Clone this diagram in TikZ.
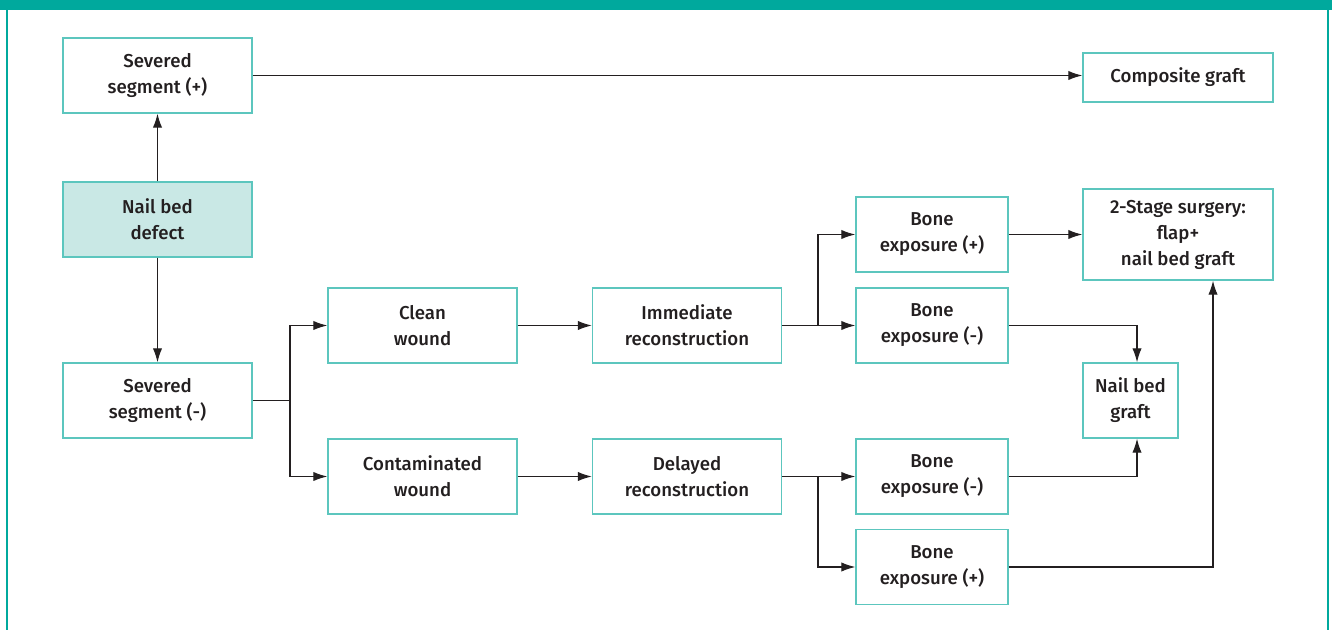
\documentclass[tikz,border=0pt]{standalone}
\usepackage{fontspec}
\setmainfont{Fira Sans}[UprightFont={* Medium}]
\usetikzlibrary{arrows.meta,calc}
\definecolor{hdr}{HTML}{00A99D}
\definecolor{boxc}{HTML}{5CC6BE}
\definecolor{fillc}{HTML}{C9E8E5}
\definecolor{txt}{HTML}{231F20}
\tikzset{
  box/.style={draw=boxc, line width=1.1pt, align=center, text=txt, inner sep=0pt,
    font=\fontsize{14}{19.5}\selectfont, minimum width=141.75pt, minimum height=56.25pt},
  bonebox/.style={box, minimum width=114pt},
  arr/.style={draw=txt, line width=0.8pt, -{Latex[length=10.5pt,width=7pt]}},
  ln/.style={draw=txt, line width=0.8pt}
}
\begin{document}
\begin{tikzpicture}[x=0.75pt,y=-0.75pt]
\useasboundingbox (0,0) rectangle (1332,630);
\fill[hdr] (0,0) rectangle (1332,10);
\draw[hdr, line width=1.6pt] (7,10) -- (7,630) (1328,10) -- (1328,630);

\node[box] (ssp) at (157.5,75.5) {Severed\\segment (+)};
\node[box, fill=fillc] (nbd) at (157.5,219.5) {Nail bed\\defect};
\node[box] (ssm) at (157.5,400.5) {Severed\\segment (-)};
\node[box, minimum width=142.5pt, minimum height=36.75pt] (comp) at (1178,77.5) {Composite graft};
\node[box] (clean) at (422.5,325.5) {Clean\\wound};
\node[box] (cont) at (422.5,476.5) {Contaminated\\wound};
\node[box] (imm) at (687,325.5) {Immediate\\reconstruction};
\node[box] (del) at (687,476.5) {Delayed\\reconstruction};
\node[bonebox] (bep1) at (932,234.5) {Bone\\exposure (+)};
\node[bonebox] (bem1) at (932,325.5) {Bone\\exposure (-)};
\node[bonebox] (bem2) at (932,476.5) {Bone\\exposure (-)};
\node[bonebox] (bep2) at (932,567) {Bone\\exposure (+)};
\node[box, minimum width=142.5pt, minimum height=68.25pt] (stage) at (1178,234.5) {2-Stage surgery:\\flap+\\nail bed graft};
\node[box, minimum width=71.25pt] (nbg) at (1130.5,400.5) {Nail bed\\graft};

\coordinate (j1) at (290,400.5);
\coordinate (j2) at (818,325.5);
\coordinate (j3) at (818,476.5);

\draw[arr] (ssp.east) -- (ssp.east -| comp.west);
\draw[arr] (nbd.north) -- (ssp.south);
\draw[arr] (nbd.south) -- (ssm.north);
\draw[ln] (ssm.east) -- (j1);
\draw[arr] (j1) |- (clean.west);
\draw[arr] (j1) |- (cont.west);
\draw[arr] (clean.east) -- (imm.west);
\draw[arr] (cont.east) -- (del.west);
\draw[ln] (imm.east) -- (j2);
\draw[arr] (j2) |- (bep1.west);
\draw[arr] (j2) -- (bem1.west);
\draw[ln] (del.east) -- (j3);
\draw[arr] (j3) -- (bem2.west);
\draw[arr] (j3) |- (bep2.west);
\draw[arr] (bep1.east) -- (stage.west);
\draw[arr] (bem1.east) -| ($(nbg.north)+(6.5,0)$);
\draw[arr] (bem2.east) -| ($(nbg.south)+(6.5,0)$);
\draw[arr] (bep2.east) -| ($(stage.south)+(35,0)$);
\end{tikzpicture}
\end{document}
